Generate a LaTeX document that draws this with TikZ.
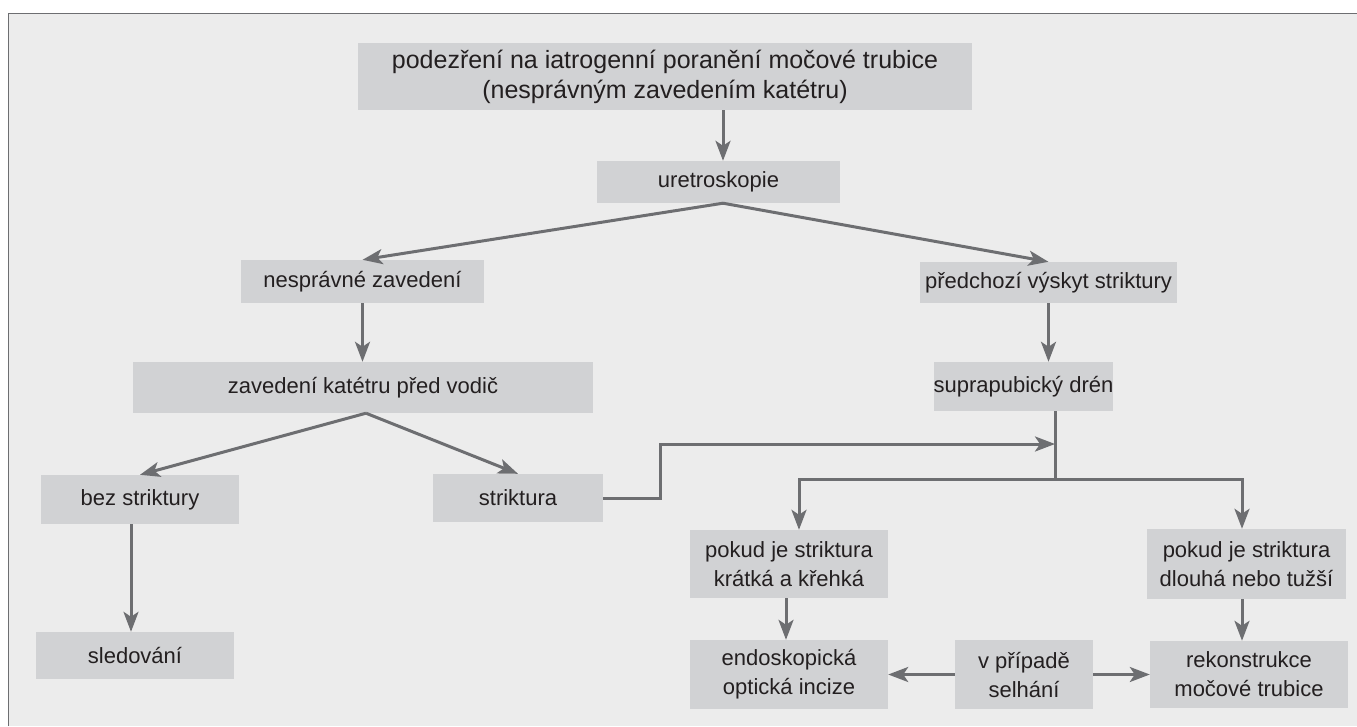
\documentclass[tikz,border=0pt]{standalone}
\usepackage{fontspec}
\setmainfont{Liberation Sans}
\usetikzlibrary{arrows.meta,positioning,calc}
\definecolor{panel}{HTML}{ECECEC}
\definecolor{boxgray}{HTML}{D1D2D4}
\definecolor{linegray}{HTML}{6D6E71}
\definecolor{ink}{HTML}{231F20}
\begin{document}
\begin{tikzpicture}[x=1pt, y=-1pt,
  box/.style={fill=boxgray, inner sep=0pt, text=ink, align=center, font=\fontsize{22}{29}\selectfont},
  arr/.style={draw=linegray, line width=3pt, -{Stealth[length=20pt, width=15pt, inset=5pt]}},
  ln/.style={draw=linegray, line width=3pt}]
\useasboundingbox (0,0) rectangle (1357,726);
\fill[panel] (8.5,13.5) rectangle (1357,726);
\draw[linegray, line width=1.5pt] (8.5,726) -- (8.5,13.5) -- (1357,13.5);
%top of the tree
\node[box, font=\fontsize{25}{30}\selectfont, minimum width=614pt, minimum height=67pt] (susp) at (665,76.5) {podezření na iatrogenní poranění močové trubice\\(nesprávným zavedením katétru)};
\node[box, minimum width=243pt, minimum height=42pt] (uret) at (718.5,182) {uretroskopie};
\node[box, minimum width=243pt, minimum height=43pt] (nespr) at (362.5,281.5) {nesprávné zavedení};
\node[box, minimum width=257pt, minimum height=41pt] (predch) at (1048.5,282.5) {předchozí výskyt striktury};
\node[box, minimum width=460pt, minimum height=51pt] (zaved) at (363,387.5) {zavedení katétru před vodič};
\node[box, minimum width=179pt, minimum height=49pt] (supra) at (1023.5,386.5) {suprapubický drén};
%left branch
\node[box, minimum width=198pt, minimum height=49pt] (bez) at (140,499.5) {bez striktury};
\node[box, minimum width=170pt, minimum height=48pt] (strik) at (518,498) {striktura};
\node[box, minimum width=198pt, minimum height=47pt] (sled) at (135,655.5) {sledování};
%right branch
\node[box, minimum width=198pt, minimum height=68pt] (kratka) at (789,564) {pokud je striktura\\krátká a křehká};
\node[box, minimum width=199pt, minimum height=70pt] (dlouha) at (1246.5,564) {pokud je striktura\\dlouhá nebo tužší};
\node[box, minimum width=198pt, minimum height=69pt] (endo) at (789,674.5) {endoskopická\\optická incize};
\node[box, minimum width=138pt, minimum height=69pt] (selh) at (1024,674.5) {v případě\\selhání};
\node[box, minimum width=198pt, minimum height=67pt] (rekon) at (1249,674.5) {rekonstrukce\\močové trubice};
%helper points
\coordinate (jog) at (660,444);
\coordinate (split) at (1055,479);
\coordinate (sl) at (799,479);
\coordinate (sr) at (1242,479);
%arrows
\draw[arr] ([xshift=58pt]susp.south) -- ([xshift=4.5pt]uret.north);
\draw[arr] ([xshift=4.5pt]uret.south) -- (nespr.north);
\draw[arr] ([xshift=4.5pt]uret.south) -- (predch.north);
\draw[arr] (nespr.south) -- (nespr.south |- zaved.north);
\draw[arr] (predch.south) -- (predch.south |- supra.north);
\draw[arr] ([xshift=3pt]zaved.south) -- (bez.north);
\draw[arr] ([xshift=3pt]zaved.south) -- (strik.north);
\draw[arr] ([xshift=-9pt]bez.south) -- ([xshift=-9pt]bez.south |- sled.north);
\draw[arr] (strik.east) -- (strik.east -| jog) -- (jog) -- (jog -| split);
\draw[ln] (supra.south -| split) -- (split);
\draw[arr] (split) -- (sl) -- (sl |- kratka.north);
\draw[arr] (split) -- (sr) -- (sr |- dlouha.north);
\draw[arr] ([xshift=-3pt]kratka.south) -- ([xshift=-3pt]kratka.south |- endo.north);
\draw[arr] (sr |- dlouha.south) -- (sr |- rekon.north);
\draw[arr] (selh.west) -- (endo.east);
\draw[arr] (selh.east) -- (rekon.west);
\end{tikzpicture}
\end{document}
